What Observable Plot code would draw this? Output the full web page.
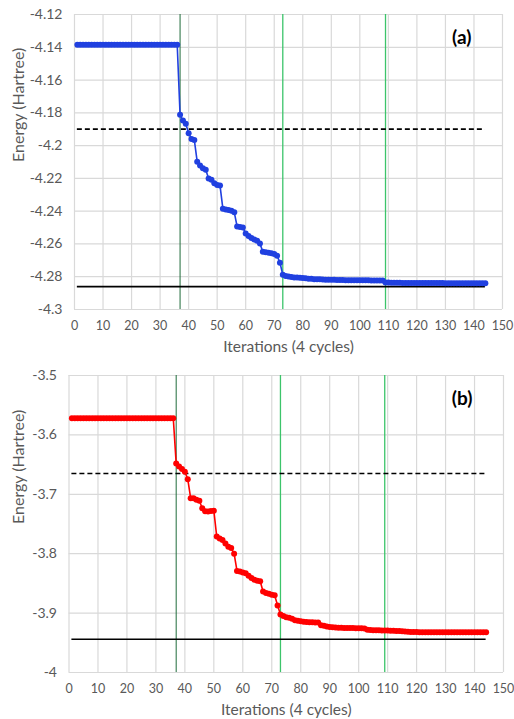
<!DOCTYPE html>
<html>
<head>
<meta charset="utf-8">
<script src="https://cdn.jsdelivr.net/npm/d3@7"></script>
<script src="https://cdn.jsdelivr.net/npm/@observablehq/plot@0.6"></script>
<style>
  html, body { margin: 0; padding: 0; background: #fff; }
  #chart svg { display: block; }
</style>
</head>
<body>
<div id="chart"></div>
<script>
// ---------- data ----------
const xTicks = [0,10,20,30,40,50,60,70,80,90,100,110,120,130,140,150];
const yTicksA = [-4.3,-4.28,-4.26,-4.24,-4.22,-4.2,-4.18,-4.16,-4.14,-4.12];
const yTicksB = [-4,-3.9,-3.8,-3.7,-3.6,-3.5];

// panel (a) energies, iterations 1..144
const energyA = [
  -4.1385,-4.1385,-4.1385,-4.1385,-4.1385,-4.1385,-4.1385,-4.1385,-4.1385,-4.1385,
  -4.1385,-4.1385,-4.1385,-4.1385,-4.1385,-4.1385,-4.1385,-4.1385,-4.1385,-4.1385,
  -4.1385,-4.1385,-4.1385,-4.1385,-4.1385,-4.1385,-4.1385,-4.1385,-4.1385,-4.1385,
  -4.1385,-4.1385,-4.1385,-4.1385,-4.1385,-4.1385,
  -4.1812,-4.1847,-4.1867,-4.1924,-4.1960,-4.1966,-4.2098,-4.2122,-4.2138,-4.2148,
  -4.2200,-4.2209,-4.2230,-4.2240,-4.2244,-4.2385,-4.2390,-4.2393,-4.2397,-4.2407,
  -4.2494,-4.2497,-4.2500,-4.2536,-4.2552,-4.2563,-4.2573,-4.2581,-4.2598,-4.2647,
  -4.2650,-4.2653,-4.2657,-4.2662,-4.2672,-4.2714,
  -4.2788,-4.2796,-4.2799,-4.2802,-4.2804,-4.2805,-4.2806,-4.2808,-4.2810,-4.2812,
  -4.2813,-4.2815,-4.2815,-4.2816,-4.2817,-4.2818,-4.2818,-4.2819,-4.2819,-4.2820,
  -4.2820,-4.2820,-4.2821,-4.2821,-4.2821,-4.2821,-4.2822,-4.2822,-4.2822,-4.2822,
  -4.2822,-4.2823,-4.2823,-4.2823,-4.2823,-4.2823,
  -4.2836,-4.2836,-4.2837,-4.2837,-4.2837,-4.2837,-4.2838,-4.2838,-4.2838,-4.2838,
  -4.2838,-4.2838,-4.2839,-4.2839,-4.2839,-4.2839,-4.2839,-4.2839,-4.2839,-4.2839,
  -4.2839,-4.2840,-4.2840,-4.2840,-4.2840,-4.2840,-4.2840,-4.2840,-4.2840,-4.2840,
  -4.2840,-4.2840,-4.2840,-4.2840,-4.2840,-4.2840
];

// panel (b) energies, iterations 1..144
const energyB = [
  -3.572,-3.572,-3.572,-3.572,-3.572,-3.572,-3.572,-3.572,-3.572,-3.572,
  -3.572,-3.572,-3.572,-3.572,-3.572,-3.572,-3.572,-3.572,-3.572,-3.572,
  -3.572,-3.572,-3.572,-3.572,-3.572,-3.572,-3.572,-3.572,-3.572,-3.572,
  -3.572,-3.572,-3.572,-3.572,-3.572,-3.572,
  -3.6480,-3.6530,-3.6575,-3.6620,-3.6745,-3.7065,-3.7068,-3.7090,-3.7110,-3.7235,
  -3.7285,-3.7290,-3.7280,-3.7275,-3.7710,-3.7745,-3.7770,-3.7830,-3.7885,-3.7905,
  -3.8000,-3.8290,-3.8300,-3.8315,-3.8330,-3.8370,-3.8410,-3.8440,-3.8455,-3.8465,
  -3.8635,-3.8660,-3.8675,-3.8690,-3.8700,-3.8870,
  -3.9025,-3.9050,-3.9070,-3.9080,-3.9095,-3.9120,-3.9130,-3.9138,-3.9145,-3.9150,
  -3.9152,-3.9155,-3.9158,-3.9160,-3.9205,-3.9215,-3.9225,-3.9232,-3.9238,-3.9243,
  -3.9245,-3.9247,-3.9249,-3.9250,-3.9251,-3.9252,-3.9253,-3.9255,-3.9257,-3.9260,
  -3.9280,-3.9285,-3.9287,-3.9288,-3.9290,-3.9291,
  -3.9293,-3.9295,-3.9297,-3.9299,-3.9300,-3.9302,-3.9306,-3.9310,-3.9314,-3.9317,
  -3.9319,-3.9320,-3.9321,-3.9321,-3.9322,-3.9322,-3.9322,-3.9323,-3.9323,-3.9323,
  -3.9323,-3.9323,-3.9324,-3.9324,-3.9324,-3.9324,-3.9324,-3.9324,-3.9324,-3.9324,
  -3.9324,-3.9324,-3.9324,-3.9324,-3.9324,-3.9324
];

const cycleStart = [37];          // first (dark green) marker
const cycleMarks = [73, 109];     // later cycle markers
const refRange = [1, 144];        // extent of reference lines
const refDashedA = -4.19, refSolidA = -4.286;
const refDashedB = -3.665, refSolidB = -3.944;

const xLabel = "Iterations (4 cycles)";
const yLabel = "Energy (Hartree)";

// ---------- drawing ----------
const FONT = "Lato, 'Open Sans', sans-serif";
const fmt = d => String(+d.toFixed(2));

function panel({energy, color, yDomain, yTicks, dashed, solid, tag, height, mt, mb, ml, mr, ylx}) {
  const pts = energy.map((e, i) => ({it: i + 1, e}));
  return Plot.plot({
    width: 514,
    height,
    marginTop: mt, marginBottom: mb, marginLeft: ml, marginRight: mr,
    style: {fontFamily: FONT, fontSize: "14px", color: "#595959", background: "#fff"},
    x: {domain: [0, 150], label: null},
    y: {domain: yDomain, label: null},
    marks: [
      Plot.gridX(xTicks, {stroke: "#d9d9d9", strokeOpacity: 1, strokeWidth: 1.2}),
      Plot.gridY(yTicks, {stroke: "#d9d9d9", strokeOpacity: 1, strokeWidth: 1.2}),
      Plot.axisX({ticks: xTicks, tickSize: 0, tickPadding: 12, tickFormat: d => String(d), label: null, fill: "#595959", fontSize: 12.5}),
      Plot.axisY({ticks: yTicks, tickSize: 0, tickPadding: 12, tickFormat: fmt, label: null, fill: "#595959"}),
      Plot.ruleX(cycleStart, {stroke: "#1f6b3a", strokeWidth: 1}),
      Plot.ruleX(cycleMarks, {stroke: "#3cc46a", strokeWidth: 1.3}),
      Plot.ruleY([dashed], {x1: refRange[0], x2: refRange[1], stroke: "#000", strokeWidth: 1.7, strokeDasharray: "5,3"}),
      Plot.ruleY([solid], {x1: refRange[0], x2: refRange[1], stroke: "#000", strokeWidth: 1.7}),
      Plot.line(pts, {x: "it", y: "e", stroke: color, strokeWidth: 1.6}),
      Plot.dot(pts, {x: "it", y: "e", fill: color, r: 3, stroke: null}),
      Plot.text([tag], {frameAnchor: "top-right", dx: -31, dy: 16, fontWeight: "bold", fontSize: 19, fill: "#000"}),
      Plot.text([xLabel], {frameAnchor: "bottom", dy: 42, fontSize: 15.5, fill: "#595959"}),
      Plot.text([yLabel], {frameAnchor: "left", rotate: -90, dx: ylx, fontSize: 16, fill: "#595959"})
    ]
  });
}

const chart = document.getElementById("chart");
chart.appendChild(panel({
  energy: energyA, color: "#2040e0", yDomain: [-4.3, -4.12], yTicks: yTicksA,
  dashed: refDashedA, solid: refSolidA, tag: "(a)",
  height: 360, mt: 14, mb: 51, ml: 74, mr: 12, ylx: -56
}));
chart.appendChild(panel({
  energy: energyB, color: "#ff0000", yDomain: [-4, -3.5], yTicks: yTicksB,
  dashed: refDashedB, solid: refSolidB, tag: "(b)",
  height: 359, mt: 15, mb: 47, ml: 68.5, mr: 11, ylx: -50
}));
</script>
</body>
</html>
